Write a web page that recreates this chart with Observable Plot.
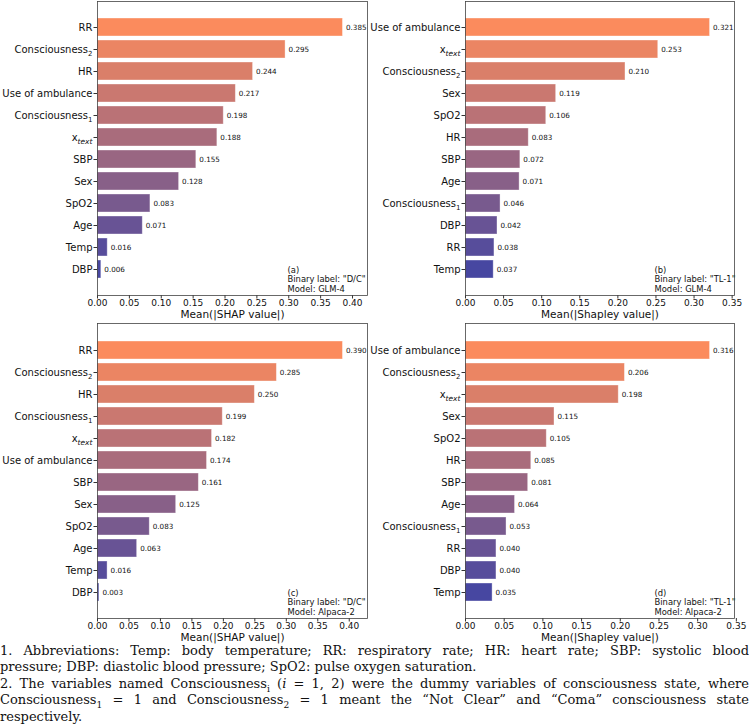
<!DOCTYPE html>
<html>
<head>
<meta charset="utf-8">
<script src="https://cdn.jsdelivr.net/npm/d3@7"></script>
<script src="https://cdn.jsdelivr.net/npm/@observablehq/plot@0.6"></script>
<style>
  body { margin: 0; background: #fff; }
  #wrap { position: relative; width: 749px; height: 727px; }
  .panel { position: absolute; }
  .panel svg { overflow: visible; }
  #caption { position: absolute; left: 0; top: 643px; width: 749px;
    font-family: "DejaVu Serif", "Liberation Serif", serif; font-size: 13px; line-height: 16.4px; color: #111; }
  #caption div { height: 16.4px; }
  #caption .j { text-align: justify; text-align-last: justify; white-space: nowrap; }
  #caption .l { text-align: left; white-space: nowrap; }
  sub { font-size: 70%; line-height: 0; }
</style>
</head>
<body>
<div id="wrap">
  <div class="panel" id="pa" style="left:0;top:0"></div>
  <div class="panel" id="pc" style="left:0;top:322px"></div>
  <div class="panel" id="pb" style="left:375px;top:0"></div>
  <div class="panel" id="pd" style="left:375px;top:322px"></div>
  <div id="caption">
    <div class="j">1. Abbreviations: Temp: body temperature; RR: respiratory rate; HR: heart rate; SBP: systolic blood</div>
    <div class="l">pressure; DBP: diastolic blood pressure; SpO2: pulse oxygen saturation.</div>
    <div class="j">2. The variables named Consciousness<sub>i</sub> (<i>i</i> = 1, 2) were the dummy variables of consciousness state, where</div>
    <div class="j">Consciousness<sub>1</sub> = 1 and Consciousness<sub>2</sub> = 1 meant the “Not Clear” and “Coma” consciousness state</div>
    <div class="l">respectively.</div>
  </div>
</div>
<script>
// ---- data ----
const featuresA = ["RR","Consciousness_2","HR","Use of ambulance","Consciousness_1","x_text","SBP","Sex","SpO2","Age","Temp","DBP"];
const valuesA   = [0.385,0.295,0.244,0.217,0.198,0.188,0.155,0.128,0.083,0.071,0.016,0.006];
const featuresB = ["Use of ambulance","x_text","Consciousness_2","Sex","SpO2","HR","SBP","Age","Consciousness_1","DBP","RR","Temp"];
const valuesB   = [0.321,0.253,0.210,0.119,0.106,0.083,0.072,0.071,0.046,0.042,0.038,0.037];
const featuresC = ["RR","Consciousness_2","HR","Consciousness_1","x_text","Use of ambulance","SBP","Sex","SpO2","Age","Temp","DBP"];
const valuesC   = [0.390,0.285,0.250,0.199,0.182,0.174,0.161,0.125,0.083,0.063,0.016,0.003];
const featuresD = ["Use of ambulance","Consciousness_2","x_text","Sex","SpO2","HR","SBP","Age","Consciousness_1","RR","DBP","Temp"];
const valuesD   = [0.316,0.206,0.198,0.115,0.105,0.085,0.081,0.064,0.053,0.040,0.040,0.035];
const ticksA = [0,0.05,0.10,0.15,0.20,0.25,0.30,0.35,0.40];
const ticksB = [0,0.05,0.10,0.15,0.20,0.25,0.30,0.35];
const labelSHAP = "Mean(|SHAP value|)";
const labelShapley = "Mean(|Shapley value|)";
const notes = {
  a: "(a)\nBinary label: \"D/C\"\nModel: GLM-4",
  b: "(b)\nBinary label: \"TL-1\"\nModel: GLM-4",
  c: "(c)\nBinary label: \"D/C\"\nModel: Alpaca-2",
  d: "(d)\nBinary label: \"TL-1\"\nModel: Alpaca-2"
};

const interp = d3.interpolateRgb("#fb8b5d", "#4747a1");

function panel(el, features, values, ticks, xlabel, note, mLeft, mRight, mBottom) {
  const rows = features.map((f, i) => ({feature: f, value: values[i], color: interp(i / (features.length - 1))}));
  const xmax = d3.max(values) * 1.1;
  const W = el === "#pa" || el === "#pc" ? 375 : 374;
  const p = Plot.plot({
    width: W, height: 320,
    marginLeft: mLeft, marginRight: mRight, marginTop: 1, marginBottom: mBottom,
    style: {fontFamily: "DejaVu Sans", fontSize: "10px", color: "#111", background: "transparent", overflow: "visible"},
    x: {domain: [0, xmax], ticks: ticks, tickFormat: ".2f", label: null},
    y: {domain: features, paddingInner: 0.2, paddingOuter: 0.62, label: null},
    color: {type: "identity"},
    marks: [
      Plot.barX(rows, {x: "value", y: "feature", fill: "color", stroke: "#ffffff", strokeOpacity: 0.45, strokeWidth: 0.8}),
      Plot.text(rows, {x: "value", y: "feature", text: d => d.value.toFixed(3), dx: 3, textAnchor: "start", fontSize: 7.2, fill: "#111"}),
      Plot.axisX({ticks: ticks, tickFormat: ".2f", tickSize: 3.5, tickPadding: 1, fontSize: 9, label: null, stroke: "#333"}),
      Plot.axisY({tickSize: 3.5, tickPadding: 1.5, fontSize: 10, label: null, stroke: "#333"}),
      Plot.text([xlabel], {frameAnchor: "bottom", dy: 19.5, lineAnchor: "middle", fontSize: 10.5, fill: "#111"}),
      Plot.text([note], {frameAnchor: "bottom-right", textAnchor: "start", lineAnchor: "bottom", dx: -80, dy: -4, fontSize: 8.4, lineHeight: 1.12, fill: "#111"}),
      Plot.frame({stroke: "#444", strokeWidth: 0.8})
    ]
  });
  // subscripts in tick labels
  d3.select(p).selectAll("text").each(function() {
    const t = this.textContent;
    const m = /^Consciousness_(\d)$/.exec(t);
    if (m) {
      this.textContent = "Consciousness";
      d3.select(this).append("tspan").attr("dy", "3").attr("font-size", "7px").text(m[1]);
    } else if (t === "x_text") {
      this.textContent = "x";
      d3.select(this).append("tspan").attr("dy", "3").attr("font-size", "7.5px").attr("font-style", "italic").text("text");
    }
  });
  document.querySelector(el).appendChild(p);
}

panel("#pa", featuresA, valuesA, ticksA, labelSHAP, notes.a, 97, 8, 25);
panel("#pc", featuresC, valuesC, ticksA, labelSHAP, notes.c, 97, 8, 24);
panel("#pb", featuresB, valuesB, ticksB, labelShapley, notes.b, 90, 15, 25);
panel("#pd", featuresD, valuesD, ticksB, labelShapley, notes.d, 90, 15, 24);
</script>
</body>
</html>
